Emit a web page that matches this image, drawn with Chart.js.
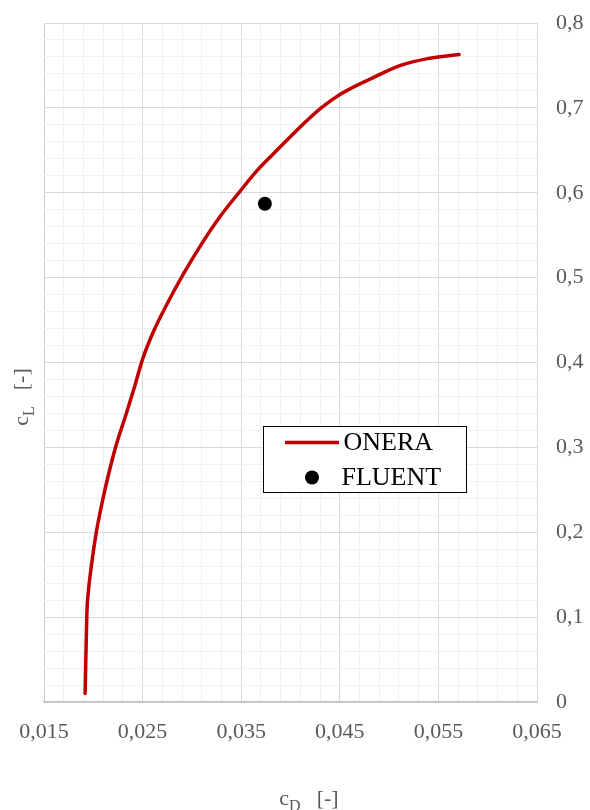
<!DOCTYPE html>
<html>
<head>
<meta charset="utf-8">
<script src="https://cdn.jsdelivr.net/npm/chart.js@4"></script>
<style>
  body { margin: 0; background: #fff; }
  #wrap { width: 590px; height: 810px; position: relative; }
</style>
</head>
<body>
<div id="wrap"><canvas id="polar"></canvas></div>
<script>
// ONERA polar curve
const onera_cD = [0.01917, 0.01927, 0.01935, 0.01948, 0.01980, 0.02029, 0.02097, 0.02165, 0.02233, 0.02335,
  0.02420, 0.02500, 0.02608, 0.02744, 0.02913, 0.03100, 0.03286, 0.03490, 0.03660, 0.03827,
  0.04050, 0.04302, 0.04505, 0.04845, 0.05117, 0.05390, 0.05710];
const onera_cL = [0.010, 0.065, 0.105, 0.128, 0.160, 0.199, 0.239, 0.273, 0.303, 0.340,
  0.372, 0.404, 0.436, 0.468, 0.504, 0.540, 0.572, 0.602, 0.626, 0.646,
  0.672, 0.699, 0.716, 0.736, 0.750, 0.758, 0.763];

// single CFD point
const fluent_cD = [0.0374];
const fluent_cL = [0.587];

const xTickLabels = ['0,015', '0,025', '0,035', '0,045', '0,055', '0,065'];
const yTickLabels = ['0', '0,1', '0,2', '0,3', '0,4', '0,5', '0,6', '0,7', '0,8'];

const RED = '#C00000';
const GREY = '#595959';
const SERIF = "'Liberation Serif', 'Times New Roman', serif";

function toPoints(xs, ys) {
  return xs.map((x, i) => ({x: x, y: ys[i]}));
}

function gridColor(ctx) {
  if (ctx.index === 0) return '#c8c8c8';
  return ctx.index % 5 === 0 ? '#d9d9d9' : '#f0f0f0';
}

// axis titles with subscripts + the boxed legend
const extras = {
  id: 'extras',
  afterDraw(chart) {
    const c = chart.ctx;
    const a = chart.chartArea;

    function title(main, sub, rest) {
      c.font = '22px ' + SERIF;
      const w1 = c.measureText(main).width;
      const w3 = c.measureText(rest).width;
      c.font = '16px ' + SERIF;
      const w2 = c.measureText(sub).width;
      const gap = 16;
      const total = w1 + w2 + gap + w3;
      let x = -total / 2;
      c.fillStyle = GREY;
      c.textBaseline = 'alphabetic';
      c.textAlign = 'left';
      c.font = '22px ' + SERIF;
      c.fillText(main, x, 0);
      x += w1;
      c.font = '16px ' + SERIF;
      c.fillText(sub, x, 6);
      x += w2 + gap;
      c.font = '22px ' + SERIF;
      c.fillText(rest, x, 0);
    }

    c.save();
    c.translate(309, 805);
    title('c', 'D', '[-]');
    c.restore();

    c.save();
    c.translate(28, 397);
    c.rotate(-Math.PI / 2);
    title('c', 'L', '[-]');
    c.restore();

    // legend
    const lx = a.left + 219.5, ly = a.top + 403.5;
    c.save();
    c.fillStyle = '#fff';
    c.fillRect(lx, ly, 203, 66);
    c.strokeStyle = '#000';
    c.lineWidth = 1;
    c.strokeRect(lx, ly, 203, 66);

    c.strokeStyle = RED;
    c.lineWidth = 3.5;
    c.beginPath();
    c.moveTo(lx + 21.5, ly + 16);
    c.lineTo(lx + 75.5, ly + 16);
    c.stroke();

    c.fillStyle = '#000';
    c.beginPath();
    c.arc(lx + 48.5, ly + 51, 7, 0, Math.PI * 2);
    c.fill();

    c.font = '26px ' + SERIF;
    c.textBaseline = 'middle';
    c.textAlign = 'left';
    c.fillText('ONERA', lx + 80, ly + 17);
    c.fillText('FLUENT', lx + 78, ly + 52);
    c.restore();
  }
};

new Chart(document.getElementById('polar'), {
  type: 'scatter',
  data: {
    datasets: [
      {
        label: 'ONERA',
        data: toPoints(onera_cD, onera_cL),
        showLine: true,
        borderColor: RED,
        borderWidth: 3.5,
        pointRadius: 0,
        cubicInterpolationMode: 'monotone',
        borderCapStyle: 'round'
      },
      {
        label: 'FLUENT',
        data: toPoints(fluent_cD, fluent_cL),
        showLine: false,
        pointRadius: 7,
        pointBackgroundColor: '#000',
        pointBorderWidth: 0
      }
    ]
  },
  options: {
    responsive: true,
    maintainAspectRatio: false,
    animation: false,
    layout: {padding: {left: 44, top: 23, right: 0, bottom: 0}},
    plugins: {legend: {display: false}, tooltip: {enabled: false}},
    scales: {
      x: {
        type: 'linear',
        position: 'bottom',
        min: 0.015,
        max: 0.065,
        afterFit(scale) {
          scale.height = 108;
          scale.paddingLeft = 0;
          scale.paddingRight = 0;
        },
        ticks: {
          stepSize: 0.002,
          autoSkip: false,
          maxRotation: 0,
          padding: 17,
          color: GREY,
          font: {family: SERIF, size: 22},
          callback: (v, i) => i % 5 === 0 ? xTickLabels[i / 5] : ''
        },
        grid: {color: gridColor, drawTicks: false},
        border: {color: '#bfbfbf', width: 1.5}
      },
      y: {
        type: 'linear',
        position: 'right',
        min: 0,
        max: 0.8,
        afterFit(scale) {
          scale.width = 53;
          scale.paddingTop = 0;
          scale.paddingBottom = 0;
        },
        ticks: {
          stepSize: 0.02,
          autoSkip: false,
          padding: 19,
          crossAlign: 'near',
          color: GREY,
          font: {family: SERIF, size: 22},
          callback: (v, i) => i % 5 === 0 ? yTickLabels[i / 5] : ''
        },
        grid: {color: ctx => ctx.index % 5 === 0 ? '#d9d9d9' : '#f0f0f0', drawTicks: false},
        border: {color: '#d9d9d9'}
      }
    }
  },
  plugins: [extras]
});
</script>
</body>
</html>
